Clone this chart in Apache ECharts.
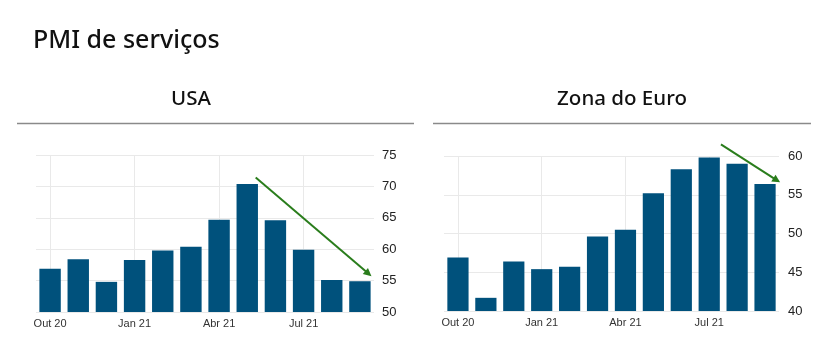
<!DOCTYPE html>
<html><head><meta charset="utf-8">
<script src="https://cdn.jsdelivr.net/npm/echarts@6/dist/echarts.min.js"></script>
<style>html,body{margin:0;padding:0;background:#fff}#c{width:830px;height:356px}</style>
</head><body><div id="c"></div>
<script>
const months = ['Out 20','Nov 20','Dez 20','Jan 21','Fev 21','Mar 21','Abr 21','Mai 21','Jun 21','Jul 21','Ago 21','Set 21'];
const gridMonths = ['Out 20','Jan 21','Abr 21','Jul 21'];
const usaValues = [56.9, 58.4, 54.8, 58.3, 59.8, 60.4, 64.7, 70.4, 64.6, 59.9, 55.1, 54.9];
const euroValues = [46.9, 41.7, 46.4, 45.4, 45.7, 49.6, 50.5, 55.2, 58.3, 59.8, 59.0, 56.4];
const usaTrend = [7.3, 71.4, 11.41, 55.7];
const euroTrend = [9.42, 61.5, 11.54, 56.6];
const usaTicks = {min: 50, max: 75, interval: 5};
const euroTicks = {min: 40, max: 60, interval: 5};

const BAR = '#00517c', GREEN = '#2a7d1c', GRID = '#e9e9e9';
const chart = echarts.init(document.getElementById('c'), null, {renderer: 'canvas'});

function catAxis(i) {
  return {type: 'category', gridIndex: i, data: months, boundaryGap: true,
    axisLine: {show: false}, axisTick: {show: false}, splitLine: {show: false},
    axisLabel: {interval: 2, color: '#333', fontSize: 11, fontFamily: 'Liberation Sans', margin: 6}};
}
function helperX(i) {
  return {type: 'value', gridIndex: i, min: -0.5, max: 11.5, show: false};
}
function valAxis(i, t, margin) {
  return {type: 'value', gridIndex: i, position: 'right', min: t.min, max: t.max, interval: t.interval,
    axisLine: {show: false}, axisTick: {show: false},
    splitLine: {lineStyle: {color: GRID, width: 1}},
    axisLabel: {color: '#222', fontSize: 13, fontFamily: 'Liberation Sans', margin: margin}};
}
function bars(i, vals) {
  return {type: 'bar', xAxisIndex: i * 2, yAxisIndex: i, data: vals, barCategoryGap: '24%',
    itemStyle: {color: BAR}, z: 2, silent: true,
    markLine: {silent: true, symbol: 'none', z: 0, label: {show: false},
      lineStyle: {color: GRID, type: 'solid', width: 1},
      data: gridMonths.map(m => ({xAxis: m}))}};
}
function trend(i, pts) {
  return {type: 'custom', xAxisIndex: i * 2 + 1, yAxisIndex: i, clip: false, silent: true, z: 5,
    data: [pts], encode: {x: [0, 2], y: [1, 3]},
    renderItem: function (params, api) {
      const a = api.coord([api.value(0), api.value(1)]);
      const b = api.coord([api.value(2), api.value(3)]);
      const dx = b[0] - a[0], dy = b[1] - a[1];
      const len = Math.sqrt(dx * dx + dy * dy);
      const ux = dx / len, uy = dy / len;
      const hl = 8, hw = 4;
      const bx = b[0] - ux * hl, by = b[1] - uy * hl;
      return {type: 'group', children: [
        {type: 'line', shape: {x1: a[0], y1: a[1], x2: bx + ux * 2, y2: by + uy * 2},
          style: {stroke: GREEN, lineWidth: 2}},
        {type: 'polygon', shape: {points: [[b[0], b[1]], [bx - uy * hw, by + ux * hw], [bx + uy * hw, by - ux * hw]]},
          style: {fill: GREEN}}
      ]};
    }};
}

chart.setOption({
  animation: false,
  title: [
    {text: 'PMI de serviços', left: 28, top: 23, textStyle: {fontFamily: 'Noto Sans', fontWeight: 500, fontSize: 25, color: '#111'}},
    {text: 'USA', left: 186, top: 84, textAlign: 'center', textStyle: {fontFamily: 'Noto Sans', fontWeight: 500, fontSize: 20.5, color: '#111'}},
    {text: 'Zona do Euro', left: 617, top: 84, textAlign: 'center', textStyle: {fontFamily: 'Noto Sans', fontWeight: 500, fontSize: 20.5, color: '#111'}}
  ],
  graphic: [
    {type: 'line', shape: {x1: 17, y1: 123.5, x2: 414, y2: 123.5}, style: {stroke: '#8a8a8a', lineWidth: 1.5}},
    {type: 'line', shape: {x1: 433, y1: 123.5, x2: 811, y2: 123.5}, style: {stroke: '#8a8a8a', lineWidth: 1.5}}
  ],
  grid: [
    {left: 36, right: 456, top: 155, bottom: 44},
    {left: 444, right: 51, top: 156, bottom: 45}
  ],
  xAxis: [catAxis(0), helperX(0), catAxis(1), helperX(1)],
  yAxis: [valAxis(0, usaTicks, 8), valAxis(1, euroTicks, 9)],
  series: [bars(0, usaValues), trend(0, usaTrend), bars(1, euroValues), trend(1, euroTrend)]
});
</script></body></html>
